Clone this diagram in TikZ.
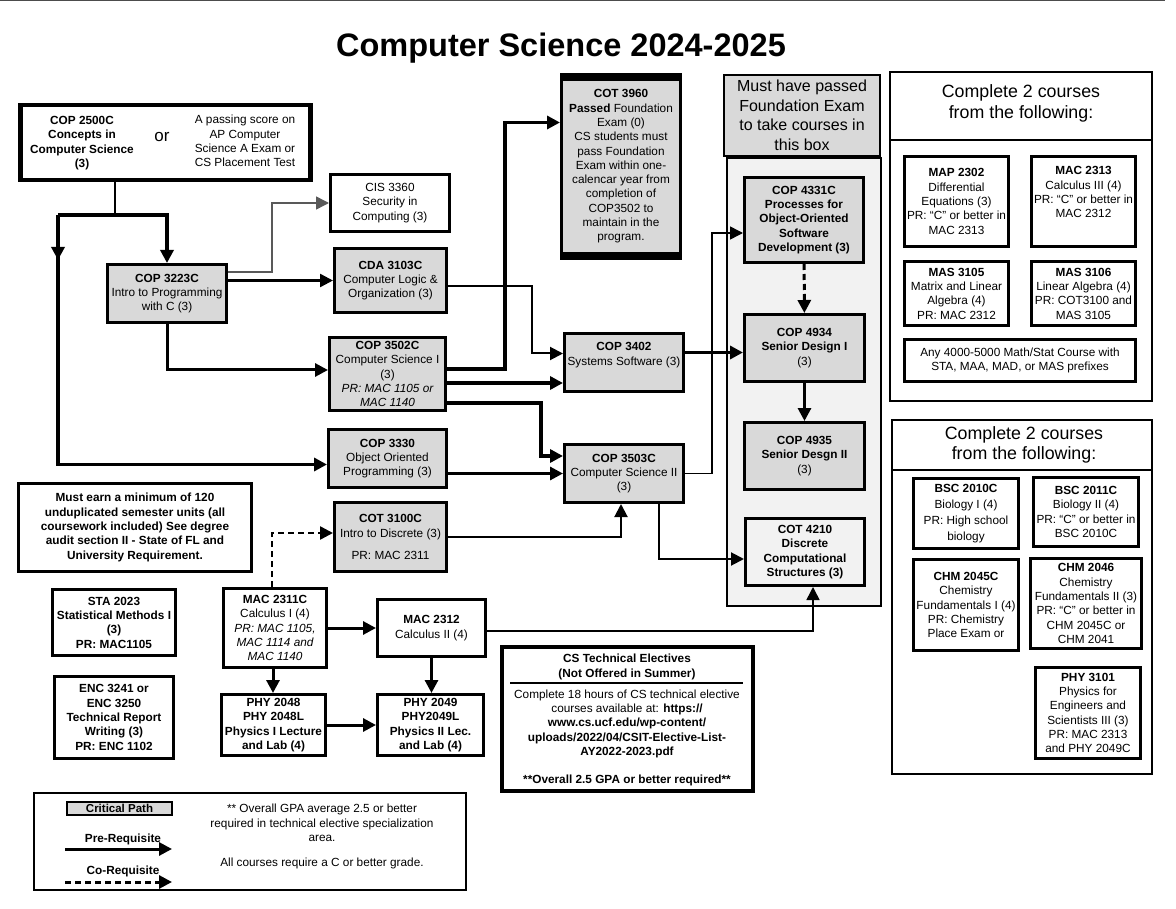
\documentclass[tikz,border=0pt]{standalone}
\usepackage{fontspec}
\setmainfont{Liberation Sans}
\usetikzlibrary{arrows.meta}

\definecolor{critgray}{HTML}{D9D9D9}
\definecolor{zonegray}{HTML}{F2F2F2}
\newcommand{\bodysize}{\fontsize{11.8pt}{14.3pt}\selectfont}

\begin{document}
\begin{tikzpicture}[
    x=1pt,
    y=-1pt,
    wh/.style 2 args={minimum width=#1pt, minimum height=#2pt},
    course/.style={draw, line width=3pt, fill=white, align=center, inner sep=0pt, font=\bodysize},
    crit/.style={course, fill=critgray},
    note/.style={align=center, inner sep=0pt, font=\bodysize},
    pre/.style={-{Triangle[length=13pt,width=13pt]}, line width=3pt},
    co/.style={pre, dash pattern=on 6pt off 4pt}
]
\useasboundingbox (0,0) rectangle (1176,909);

% 1. Title and page edge
\draw[black!70, line width=1pt] (0,0.5) -- (1165,0.5);
\node[font=\fontsize{32.5pt}{36pt}\selectfont\bfseries] (title) at (561,48) {Computer Science 2024-2025};

% 2. Entry box (COP 2500C or AP score)
\node[course, line width=4.5pt, wh={290}{75}] (cop2500) at (165.5,142.5) {};
\node[note, font=\bodysize\bfseries] (cop2500txt) at (82,143) {COP 2500C\\Concepts in\\Computer Science\\(3)};
\node[note, font=\fontsize{17pt}{20pt}\selectfont] (ortxt) at (162,137) {or};
\node[note] (aptxt) at (245,141) {A passing score on\\AP Computer\\Science A Exam or\\CS Placement Test};

% 3. Foundation exam zone (drawn first, courses sit on top)
\node[draw, line width=1.5pt, fill=zonegray, wh={154}{448}] (fezone) at (804,382) {};
\node[crit, line width=2pt, wh={156}{81}, font=\fontsize{16pt}{19.5pt}\selectfont] (fehead) at (802,115.5) {Must have passed\\Foundation Exam\\to take courses in\\this box};

% 4. Core courses
\node[crit, wh={119}{58}] (cop3223) at (167,293.5) {\textbf{COP 3223C}\\Intro to Programming\\with C (3)};
\node[course, wh={119}{57}] (cis3360) at (390,203) {CIS 3360\\Security in\\Computing (3)};
\node[crit, wh={112}{64}] (cda3103) at (390.5,280.5) {\textbf{CDA 3103C}\\Computer Logic \&\\Organization (3)};
\node[crit, wh={116}{73}] (cop3502) at (387.5,374) {\textbf{COP 3502C}\\Computer Science I\\(3)\\\itshape PR: MAC 1105 or\\\itshape MAC 1140};
\node[crit, wh={118}{58}] (cop3330) at (387.5,458.5) {\textbf{COP 3330}\\Object Oriented\\Programming (3)};
\node[crit, wh={112}{69}] (cot3100) at (390.5,537) {\textbf{COT 3100C}\\Intro to Discrete (3)\\[8pt]PR: MAC 2311};
\node[crit, wh={119}{184}] (cot3960) at (621,166.5) {\textbf{COT 3960}\\\textbf{Passed} Foundation\\Exam (0)\\CS students must\\pass Foundation\\Exam within one-\\calencar year from\\completion of\\COP3502 to\\maintain in the\\program.};
\fill (cot3960.north west) rectangle ([yshift=-8pt]cot3960.north east);
\fill ([yshift=8pt]cot3960.south west) rectangle (cot3960.south east);
\node[crit, wh={119}{58}] (cop3402) at (624,362.5) {\textbf{COP 3402}\\Systems Software (3)\\[3pt]};
\node[crit, wh={119}{58}] (cop3503) at (624,473.5) {\textbf{COP 3503C}\\Computer Science II\\(3)};

% 5. Upper level (inside the zone)
\node[crit, wh={119}{85}, font=\bodysize\bfseries] (cop4331) at (804,220) {COP 4331C\\Processes for\\Object-Oriented\\Software\\Development (3)};
\node[crit, wh={120}{67}] (cop4934) at (804.5,348) {\textbf{COP 4934}\\\textbf{Senior Design I}\\(3)};
\node[crit, wh={120}{67}] (cop4935) at (804.5,456) {\textbf{COP 4935}\\\textbf{Senior Desgn II}\\(3)};
\node[course, fill=zonegray, wh={119}{67}, font=\bodysize\bfseries] (cot4210) at (805,552) {COT 4210\\Discrete\\Computational\\Structures (3)};

% 6. Math, physics and general requirements
\node[course, wh={233}{88}, font=\bodysize\bfseries] (mustearn) at (135,527.5) {Must earn a minimum of 120\\unduplicated semester units (all\\coursework included) See degree\\audit section II - State of FL and\\University Requirement.};
\node[course, wh={123}{66}, font=\bodysize\bfseries] (sta2023) at (114,622.5) {STA 2023\\Statistical Methods I\\(3)\\PR: MAC1105};
\node[course, wh={119}{82}, font=\bodysize\bfseries] (enc3241) at (114,717.5) {ENC 3241 or\\ENC 3250\\Technical Report\\Writing (3)\\PR: ENC 1102};
\node[course, wh={103}{79}] (mac2311) at (275,628) {\textbf{MAC 2311C}\\Calculus I (4)\\\itshape PR: MAC 1105,\\\itshape MAC 1114 and\\\itshape MAC 1140};
\node[course, wh={108}{57}] (mac2312) at (431.5,628) {\textbf{MAC 2312}\\Calculus II (4)};
\node[course, wh={104}{61}, font=\bodysize\bfseries] (phy2048) at (273.5,725) {PHY 2048\\PHY 2048L\\Physics I Lecture\\and Lab (4)};
\node[course, wh={106}{61}, font=\bodysize\bfseries] (phy2049) at (430.5,725) {PHY 2049\\PHY2049L\\Physics II Lec.\\and Lab (4)};

% 7. Technical electives
\node[course, line width=4pt, wh={251}{144}] (techel) at (627.5,719) {};
\node[note, font=\bodysize\bfseries] (techhead) at (627,667) {CS Technical Electives\\(Not Offered in Summer)};
\draw[line width=1.2pt] (510,683) -- (743,683);
\node[note] (techbody) at (627,738) {Complete 18 hours of CS technical elective\\courses available at: \textbf{https://}\\\textbf{www.cs.ucf.edu/wp-content/}\\\textbf{uploads/2022/04/CSIT-Elective-List-}\\\textbf{AY2022-2023.pdf}\\[14.3pt]\textbf{**Overall 2.5 GPA or better required**}};

% 8. Math electives
\node[draw, line width=2pt, wh={262}{329}] (mathsec) at (1021,236.5) {};
\node[note, font=\fontsize{17.8pt}{21pt}\selectfont] (mathhead) at (1021,103) {Complete 2 courses\\from the following:};
\draw[line width=2pt] (891,140) -- (1151,140);
\node[course, wh={104}{90}] (map2302) at (956.5,201.5) {\textbf{MAP 2302}\\Differential\\Equations (3)\\PR: “C” or better in\\MAC 2313};
\node[course, wh={104}{90}] (mac2313) at (1083.5,201.5) {\textbf{MAC 2313}\\Calculus III (4)\\PR: “C” or better in\\MAC 2312\\\strut};
\node[course, wh={104}{64}] (mas3105) at (956.5,293.5) {\textbf{MAS 3105}\\Matrix and Linear\\Algebra (4)\\PR: MAC 2312};
\node[course, wh={104}{64}] (mas3106) at (1083.5,293.5) {\textbf{MAS 3106}\\Linear Algebra (4)\\PR: COT3100 and\\MAS 3105};
\node[course, wh={231}{42}] (anymath) at (1020,360.5) {Any 4000-5000 Math/Stat Course with\\STA, MAA, MAD, or MAS prefixes};

% 9. Science electives
\node[draw, line width=2pt, wh={260}{354}] (scisec) at (1022,597) {};
\node[note, font=\fontsize{17.8pt}{20pt}\selectfont] (scihead) at (1024,445) {Complete 2 courses\\from the following:};
\draw[line width=2pt] (893,470) -- (1152,470);
\node[course, wh={105}{70}] (bsc2010) at (966,513.5) {\textbf{BSC 2010C}\\[1.5pt]Biology I (4)\\[1.5pt]PR: High school\\[1.5pt]biology};
\node[course, wh={105}{69}] (bsc2011) at (1086,512) {\textbf{BSC 2011C}\\Biology II (4)\\PR: “C” or better in\\BSC 2010C};
\node[course, wh={105}{91}] (chm2045) at (966,605) {\textbf{CHM 2045C}\\Chemistry\\Fundamentals I (4)\\PR: Chemistry\\Place Exam or};
\node[course, wh={111}{90}] (chm2046) at (1086,603.5) {\textbf{CHM 2046}\\Chemistry\\Fundamentals II (3)\\PR: “C” or better in\\CHM 2045C or\\CHM 2041};
\node[course, wh={105}{91}] (phy3101) at (1088,713) {\textbf{PHY 3101}\\Physics for\\Engineers and\\Scientists III (3)\\PR: MAC 2313\\and PHY 2049C};

% 10. Connectors
\coordinate (split) at (115,215);
\coordinate (leftrail) at (58,215);
\draw[line width=2pt] (cop2500.south -| split) -- (split);
\draw[pre, line width=4pt] (leftrail) -- ++(0,45);
\draw[pre, line width=3.5pt] (leftrail) |- ([yshift=-6pt]cop3330.west);
\draw[pre, line width=4pt] (leftrail) -- (leftrail -| cop3223) -- (cop3223);
\draw[pre, line width=1.5pt, draw=black!65] ([yshift=21.5pt]cop3223.east) -- ++(44,0) |- (cis3360);
\draw[pre, line width=2.5pt] (cop3223.east |- cda3103) -- (cda3103);
\draw[pre] (cop3223) |- ([yshift=4pt]cop3502.west);
\draw[pre, line width=3.5pt] ([yshift=5pt]cop3502.east) -- ++(58,0) |- ([yshift=44pt]cot3960.west);
\draw[pre, line width=3.5pt] ([yshift=-9pt]cop3502.east) -- ([yshift=-9pt]cop3502.east -| cop3402.west);
\draw[pre, line width=2pt] ([yshift=-6pt]cda3103.east) -- ++(84,0) |- ([yshift=9pt]cop3402.west);
\draw[pre, line width=3.5pt] ([yshift=-29pt]cop3502.east) -- ++(94,0) |- ([yshift=17.5pt]cop3503.west);
\draw[pre] (cop3503.west -| cop3330.east) -- (cop3503.west);
\draw[pre, line width=2pt] (cot3100.east) -| ([xshift=-3pt]cop3503.south);
\draw[co, line width=2.5pt] ([xshift=-3pt]mac2311.north) |- ([yshift=4pt]cot3100.west);
\draw[pre, line width=1.5pt] (cop3503.east) -- ++(27,0) |- ([yshift=-13pt]cop4331.west);
\draw[pre, line width=2pt] ([xshift=35pt]cop3503.south) |- ([yshift=-7pt]cot4210.west);
\draw[pre, line width=3.5pt] ([yshift=10pt]cop3402.east) -- ([yshift=10pt]cop3402.east -| cop4934.west);
\draw[co, line width=3pt] (cop4331) -- (cop4934);
\draw[pre] (cop4934) -- (cop4935);
\draw[pre, line width=1.5pt] ([yshift=-3pt]mac2312.east) -| ([xshift=8pt]cot4210.south);
\draw[pre] (mac2311) -- (mac2312);
\draw[pre] ([xshift=-2pt]mac2311.south) -- ([xshift=-2pt]mac2311.south |- phy2048.north);
\draw[pre] (mac2312.south) -- (mac2312.south |- phy2049.north);
\draw[pre] (phy2048) -- (phy2049);

% 11. Legend
\node[draw, line width=1.5pt, wh={432}{97}] (legend) at (250,841.5) {};
\node[crit, line width=2pt, wh={105}{13}, font=\fontsize{11.5pt}{13pt}\selectfont\bfseries] (critpath) at (119.5,808) {Critical Path};
\node[note, font=\bodysize\bfseries] (prelabel) at (123,839) {Pre-Requisite};
\coordinate (prefrom) at (65,849);
\coordinate (preto) at (172,849);
\draw[pre] (prefrom) -- (preto);
\node[note, font=\bodysize\bfseries] (colabel) at (123,871) {Co-Requisite};
\coordinate (cofrom) at (65,882);
\coordinate (coto) at (172,882);
\draw[co] (cofrom) -- (coto);
\node[note] (gpanote) at (322,823) {** Overall GPA average 2.5 or better\\required in technical elective specialization\\area.};
\node[note] (gradenote) at (322,863) {All courses require a C or better grade.};

\end{tikzpicture}
\end{document}
